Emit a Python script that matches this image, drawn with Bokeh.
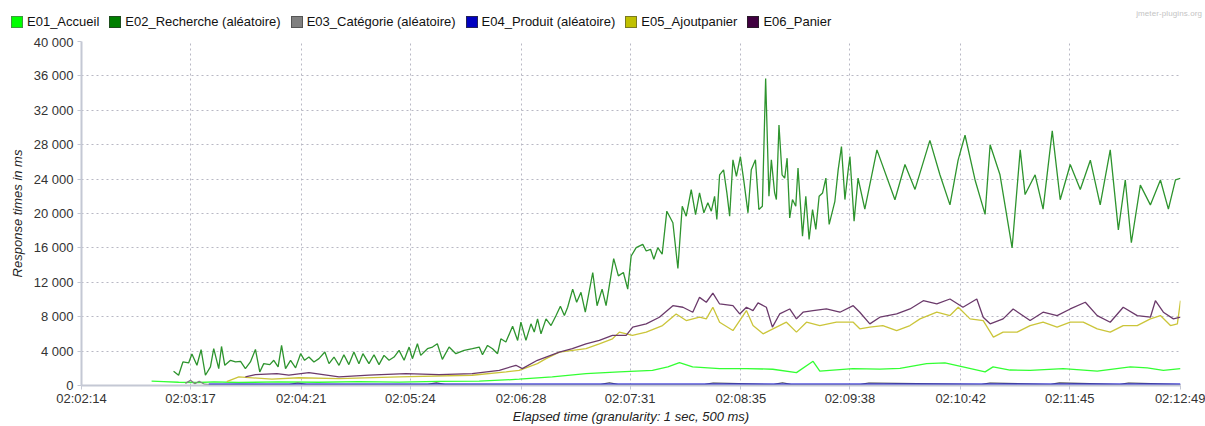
from bokeh.plotting import figure
from bokeh.layouts import column
from bokeh.models import Range1d, FixedTicker, Div
from bokeh.embed import file_html
from bokeh.resources import INLINE

# ---------------- data ----------------
start_label = "02:02:14"
x_tick_labels = ["02:02:14", "02:03:17", "02:04:21", "02:05:24", "02:06:28", "02:07:31",
                 "02:08:35", "02:09:38", "02:10:42", "02:11:45", "02:12:49"]
y_ticks = [0, 4000, 8000, 12000, 16000, 20000, 24000, 28000, 32000, 36000, 40000]
y_tick_labels = ["0", "4 000", "8 000", "12 000", "16 000", "20 000", "24 000", "28 000",
                 "32 000", "36 000", "40 000"]

series_names = ["E01_Accueil", "E02_Recherche (aléatoire)", "E03_Catégorie (aléatoire)",
                "E04_Produit (aléatoire)", "E05_Ajoutpanier", "E06_Panier"]

# elapsed seconds since 02:02:14, response time in ms
e01_t = [40.5, 47.5, 56.1, 67.7, 76.4, 90.9, 114.0, 137.2, 160.3, 183.5, 206.6, 229.8, 252.9,
         272.0, 291.5, 310.8, 329.9, 338.8, 345.5, 353.1, 368.7, 384.2, 399.4, 413.1, 422.7,
         426.6, 445.7, 461.3, 472.9, 488.3, 498.9, 509.3, 522.1, 526.7, 536.5, 548.1, 567.2,
         586.9, 606.0, 615.8, 625.1, 635.0]
e01_ms = [500, 450, 380, 350, 420, 350, 420, 380, 450, 400, 480, 500, 730,
          1000, 1390, 1580, 1770, 2160, 2660, 2160, 1970, 1970, 1890, 1500, 2810,
          1660, 1970, 1900, 2000, 2540, 2620, 2160, 1580, 2160, 1800, 1770, 1970,
          1660, 2160, 2040, 1770, 1970]

e02_t = [53.2, 56.1, 58.6, 61.9, 63.8, 66.7, 69.1, 71.6, 74.5, 76.4, 79.3, 80.9, 82.8, 86.1,
         89.0, 91.9, 94.7, 97.6, 100.5, 103.0, 105.3, 108.8, 111.1, 113.6, 115.6, 117.9, 120.8,
         123.7, 126.6, 128.9, 131.4, 134.3, 137.2, 140.6, 143.0, 145.9, 148.8, 151.6, 154.5,
         157.4, 160.3, 162.6, 166.1, 169.0, 171.9, 174.8, 177.7, 180.6, 183.5, 186.4, 189.3,
         191.2, 194.1, 196.0, 199.9, 202.8, 205.6, 208.5, 212.4, 216.3, 221.1, 225.9, 229.8,
         231.7, 234.6, 237.5, 240.4, 242.3, 245.2, 249.1, 252.0, 253.9, 256.8, 259.7, 261.6,
         263.5, 265.5, 268.4, 271.3, 274.2, 276.7, 279.0, 280.9, 283.8, 286.1, 288.6, 291.1,
         295.4, 297.9, 300.8, 303.1, 307.5, 310.2, 313.1, 315.6, 317.6, 320.5, 324.3, 326.3,
         328.8, 330.7, 333.0, 335.5, 338.2, 341.7, 344.6, 347.1, 349.4, 352.3, 354.8, 357.1,
         359.6, 361.9, 363.9, 365.8, 367.1, 368.7, 371.0, 372.9, 374.5, 376.4, 378.4, 380.7,
         382.6, 385.1, 387.0, 389.4, 391.4, 393.4, 395.3, 397.2, 398.6, 400.5, 401.5, 403.0,
         404.8, 406.3, 407.7, 409.2, 410.8, 412.7, 414.0, 416.6, 418.5, 420.4, 422.4, 424.3,
         426.2, 428.2, 430.1, 432.0, 435.3, 437.2, 439.1, 441.1, 443.0, 444.0, 446.4, 448.7,
         452.6, 459.6, 470.0, 475.8, 481.6, 490.2, 496.0, 501.8, 506.5, 510.5, 516.3, 522.1,
         525.0, 530.7, 537.7, 542.4, 545.2, 551.0, 555.6, 560.9, 565.5, 571.3, 577.1, 582.9,
         588.6, 594.4, 599.1, 603.1, 606.6, 611.8, 617.6, 623.4, 628.0, 632.1, 635.0]
e02_ms = [1650, 1190, 2740, 2620, 3660, 2350, 4160, 1190, 2160, 4280, 1970, 4540, 2350, 2930,
          2740, 2810, 1970, 2740, 4200, 1580, 2540, 2430, 2930, 2160, 4660, 1970, 2930,
          2050, 3700, 2930, 3310, 2740, 3120, 3890, 2540, 3310, 2350, 3580, 2430,
          3890, 2540, 3700, 2540, 3580, 2430, 3500, 2930, 3310, 4080, 2930, 4470,
          3120, 4850, 3500, 4280, 4470, 4850, 3040, 4470, 3700, 4080, 4280, 4470,
          3580, 4660, 4280, 3700, 5430, 5050, 6900, 5240, 7360, 5240, 7170, 6210,
          7750, 6010, 7750, 6970, 8130, 9210, 8130, 9100, 11210, 9680, 10830, 8520,
          13140, 9280, 11210, 9280, 14760, 12750, 13140, 11210, 15060, 16030, 16410, 15640,
          15840, 14680, 16030, 15260, 20270, 18920, 13600, 20850, 19690, 22770, 19880, 22390,
          20080, 21240, 20270, 22000, 19300, 24500, 25080, 22390, 19690, 26240, 24310, 26620,
          23930, 20080, 25080, 26240, 20460, 20850, 35690, 22000, 26240, 22390, 21620, 30290,
          24500, 24120, 26430, 19490, 21620, 20850, 25280, 17370, 22000, 16990, 20460, 18150,
          22000, 22390, 24120, 18730, 21420, 25080, 27780, 21620, 25080, 26620, 19110, 24120,
          20500, 27400, 21600, 25700, 22800, 28500, 24500, 21000, 26200, 29100, 23900, 19900,
          28000, 24500, 16000, 27400, 22200, 24500, 20500, 29600, 21600, 25700, 22800, 26200,
          21000, 27400, 18100, 23900, 16600, 23300, 21000, 23900, 20500, 23900, 24100]

e03_t = [60.0, 63.0, 65.5, 68.0, 71.0, 74.0, 80.0, 120.0, 125.0, 130.0, 200.0, 205.0, 210.0,
         300.0, 305.0, 310.0, 360.0, 365.0, 400.0, 405.0, 410.0, 450.0, 455.0, 520.0, 525.0,
         560.0, 565.0, 600.0, 605.0, 635.0]
e03_ms = [250, 600, 200, 500, 150, 100, 90, 90, 300, 90, 90, 320, 90,
          90, 330, 90, 90, 300, 90, 340, 90, 90, 310, 90, 300,
          90, 320, 90, 300, 90]

e04_t = [73.5, 150.0, 300.0, 450.0, 635.0]
e04_ms = [170, 170, 170, 170, 170]

e05_t = [83.9, 90.9, 110.0, 125.6, 148.8, 183.5, 225.7, 245.4, 252.9, 263.4, 268.4, 276.1,
         291.5, 299.2, 306.8, 310.8, 318.3, 326.3, 335.7, 343.6, 349.4, 357.1, 361.0, 364.8,
         368.7, 376.4, 380.3, 384.2, 388.0, 393.8, 399.5, 407.3, 413.1, 418.9, 426.6, 436.2,
         445.9, 449.7, 455.5, 463.0, 471.0, 478.7, 484.5, 494.2, 501.8, 506.6, 513.4, 521.0,
         526.9, 532.5, 540.6, 548.1, 555.6, 563.7, 571.3, 578.8, 586.9, 594.4, 601.9, 610.0,
         617.6, 623.4, 629.2, 633.2, 635.0]
e05_ms = [450, 1000, 730, 900, 810, 1000, 1190, 1580, 1770, 2540, 3120, 3890,
          4280, 4850, 5430, 6210, 5820, 6210, 6970, 8320, 7550, 7940, 7750, 9100,
          7360, 6390, 7550, 8710, 6970, 6010, 6590, 7360, 6210, 7360, 6970, 7360,
          7360, 6590, 6790, 6970, 6390, 6970, 7750, 8520, 8130, 9100, 7750, 7550,
          5630, 6210, 6210, 6970, 7360, 6790, 7360, 7360, 6590, 6210, 6970, 6970,
          7750, 8130, 6970, 7170, 9860]

e06_t = [94.7, 100.5, 112.9, 119.8, 131.4, 148.8, 166.1, 187.4, 206.6, 225.7, 241.4, 251.0,
         254.7, 263.4, 268.4, 276.1, 283.6, 291.5, 299.2, 306.8, 314.7, 318.5, 326.3, 333.9,
         341.7, 347.5, 353.2, 357.1, 361.0, 364.8, 368.7, 376.4, 380.3, 384.2, 388.0, 390.9,
         395.7, 399.2, 403.4, 409.2, 413.1, 416.9, 422.7, 430.4, 438.2, 445.9, 449.7, 455.5,
         461.3, 471.0, 478.7, 486.4, 494.2, 501.8, 509.3, 517.3, 521.0, 525.0, 532.5, 538.3,
         548.1, 555.6, 563.7, 571.3, 580.0, 586.9, 594.4, 601.9, 610.0, 617.6, 620.5, 625.1,
         630.9, 635.0]
e06_ms = [1000, 1270, 1390, 1200, 1500, 1000, 1200, 1390, 1270, 1390, 1770, 2350,
          1970, 2930, 3310, 3890, 4280, 4850, 5240, 5820, 5820, 6790, 7170, 7940,
          9280, 9100, 8520, 10250, 9680, 10750, 9480, 9280, 8320, 9100, 8710, 9600,
          9100, 6790, 8320, 8900, 7750, 8520, 8710, 8900, 8520, 9280, 8520, 7170,
          7940, 8320, 8900, 9860, 9480, 10060, 9100, 10060, 7940, 7170, 7750, 8900,
          7550, 8520, 8130, 8900, 9680, 8130, 7360, 9100, 8130, 7940, 9860, 8520,
          7750, 7940]

line_colors = ["#33ff33", "#2e942e", "#808080", "#0000cc", "#cbc53a", "#6b3a6b"]
legend_colors = ["#00ff00", "#007f00", "#808080", "#0000c0", "#c0c000", "#400040"]
legend_borders = ["#3c9c3c", "#1e4e1e", "#555555", "#22225a", "#7a7a22", "#2a1a2a"]

# ---------------- plot ----------------
def to_sec(lbl):
    h, m, s = [int(v) for v in lbl.split(":")]
    return h * 3600 + m * 60 + s

t0 = to_sec(start_label)
x_tick_pos = [to_sec(l) - t0 for l in x_tick_labels]

FONT = "Liberation Sans"
FS = "13px"
W = 1205
TOP_H = 34

# --- top strip: legend + watermark (HTML text) ---
legend_html = "".join(
    '<span style="display:inline-block;margin-right:10px;">'
    '<span style="display:inline-block;width:12px;height:12px;box-sizing:border-box;'
    f'background:{c};border:1px solid {b};vertical-align:-2px;margin-right:4px;"></span>'
    f'{name}</span>'
    for name, c, b in zip(series_names, legend_colors, legend_borders))
top_html = (
    f'<div style="position:relative;width:{W}px;height:{TOP_H}px;font-family:\'{FONT}\';">'
    f'<div style="position:absolute;left:11px;top:15px;white-space:nowrap;font-size:{FS};'
    f'line-height:14px;color:#111111;">{legend_html}</div>'
    '<div style="position:absolute;right:3px;top:9px;font-size:8px;line-height:10px;'
    'color:#c4c4c4;letter-spacing:0.1px;">jmeter-plugins.org</div></div>')
top = Div(text=top_html, width=W, height=TOP_H, margin=0)

# --- main chart ---
p = figure(width=W, height=426 - TOP_H, output_backend="svg", toolbar_location=None,
           x_range=Range1d(x_tick_pos[0], x_tick_pos[-1]), y_range=Range1d(0, 40000),
           min_border_left=81, min_border_top=7, min_border_right=25, min_border_bottom=39)
p.outline_line_color = None
p.background_fill_color = "white"

for ax in (p.xaxis[0], p.yaxis[0]):
    ax.axis_line_color = "#c4c8d4"
    ax.axis_line_width = 2
    ax.major_tick_line_color = "#c4c8d4"
    ax.major_tick_out = 4
    ax.major_tick_in = 0
    ax.minor_tick_line_color = None
    ax.major_label_text_font = FONT
    ax.major_label_text_font_size = FS
    ax.major_label_text_color = "#333333"
    ax.axis_label_text_font = FONT
    ax.axis_label_text_font_size = FS
    ax.axis_label_text_font_style = "italic"
    ax.axis_label_text_color = "#222222"

p.xaxis.ticker = FixedTicker(ticks=x_tick_pos)
p.xaxis.major_label_overrides = {pos: lbl for pos, lbl in zip(x_tick_pos, x_tick_labels)}
p.xaxis.axis_label = "Elapsed time (granularity: 1 sec, 500 ms)"
p.xaxis.major_label_standoff = 1
p.xaxis.axis_label_standoff = 0

p.yaxis.ticker = FixedTicker(ticks=y_ticks)
p.yaxis.major_label_overrides = {v: lbl for v, lbl in zip(y_ticks, y_tick_labels)}
p.yaxis.axis_label = "Response times in ms"
p.yaxis.major_label_standoff = 4
p.yaxis.axis_label_standoff = 6

for g in (p.xgrid[0], p.ygrid[0]):
    g.grid_line_color = "#b8b8c4"
    g.grid_line_dash = "2 3"
    g.grid_line_width = 1

series = [(e01_t, e01_ms), (e02_t, e02_ms), (e03_t, e03_ms), (e04_t, e04_ms),
          (e05_t, e05_ms), (e06_t, e06_ms)]
for (t, ms), c in zip(series, line_colors):
    p.line(t, ms, line_color=c, line_width=1.3)

layout = column(top, p, spacing=0)
open("out.html", "w").write(file_html(layout, INLINE))
